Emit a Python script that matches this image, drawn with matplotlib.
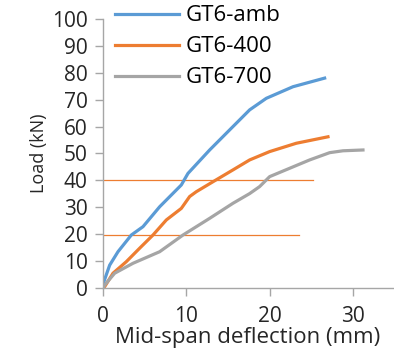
import matplotlib.pyplot as plt
import numpy as np

plt.rcParams['font.family'] = ['Open Sans', 'DejaVu Sans']

# Load-deflection curves
amb_x = [0, 0.1, 0.8, 1.8, 3.4, 4.8, 6.8, 9.4, 10.2, 12.8, 15.6, 17.6, 19.6, 22.8, 26.6]
amb_y = [0, 2.3, 8.5, 13.5, 19.7, 22.8, 30.2, 38.3, 42.6, 51.3, 60.0, 66.2, 70.5, 74.8, 78.0]

t400_x = [0, 0.2, 1.2, 2.8, 4.4, 6.0, 7.6, 9.4, 10.4, 11.2, 13.2, 15.6, 17.6, 20.0, 23.2, 27.0]
t400_y = [0, 0.5, 5.5, 9.8, 14.8, 19.7, 25.3, 29.6, 34.0, 35.8, 39.5, 43.9, 47.6, 50.7, 53.8, 56.2]

t700_x = [0, 0.2, 1.4, 3.6, 6.8, 9.6, 12.8, 15.6, 17.6, 18.8, 20.0, 22.4, 24.8, 27.2, 28.8, 31.2]
t700_y = [0, 1.1, 5.5, 9.2, 13.5, 19.7, 25.9, 31.5, 35.1, 37.7, 41.4, 44.5, 47.6, 50.3, 51.0, 51.3]

# thin orange reference lines: (load, end deflection)
ref_loads = [40, 19.7]
ref_ends = [25.2, 23.5]

fig = plt.figure(figsize=(3.94, 3.5), dpi=100)
ax = fig.add_axes([0.2614, 0.177, 0.736, 0.769])

for yv, xe in zip(ref_loads, ref_ends):
    ax.plot([0, xe], [yv, yv], color='#ED7D31', lw=0.9)

ax.plot(amb_x, amb_y, color='#5B9BD5', lw=2.3, label='GT6-amb')
ax.plot(t400_x, t400_y, color='#ED7D31', lw=2.3, label='GT6-400')
ax.plot(t700_x, t700_y, color='#A5A5A5', lw=2.3, label='GT6-700')

ax.set_xlim(0, 34.8)
ax.set_ylim(0, 100)
ax.set_xticks([0, 10, 20, 30])
ax.set_yticks(np.arange(0, 101, 10))

for s in ['top', 'right']:
    ax.spines[s].set_visible(False)
for s in ['left', 'bottom']:
    ax.spines[s].set_color('#A6A6A6')
    ax.spines[s].set_linewidth(1.0)
ax.tick_params(colors='#A6A6A6', labelcolor='#262626', labelsize=15,
               length=6, width=1.0, direction='out')
ax.tick_params(axis='y', pad=5)
ax.tick_params(axis='x', pad=7)

ax.set_xlabel('Mid-span deflection (mm)', fontsize=16, color='#262626', labelpad=0)
ax.set_ylabel('Load (kN)', fontsize=13, color='#262626', labelpad=3)

ax.legend(loc='upper left', bbox_to_anchor=(0.041, 1.05), frameon=False,
          fontsize=16, handlelength=2.9, handletextpad=0.3, labelspacing=0.45,
          borderpad=0, borderaxespad=0)

fig.savefig('out.png', dpi=100)
